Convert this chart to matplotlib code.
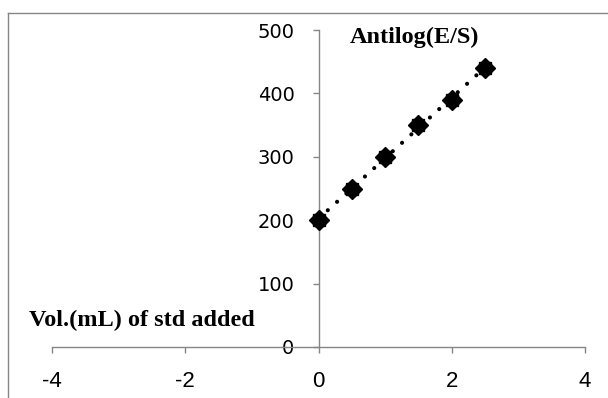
import matplotlib
matplotlib.use("Agg")
import matplotlib.pyplot as plt
import numpy as np
from matplotlib.lines import Line2D

vol_added = [0, 0.5, 1, 1.5, 2, 2.5]
antilog = [200, 250, 300, 350, 390, 440]
x_ticks = [-4, -2, 0, 2, 4]
y_ticks = [0, 100, 200, 300, 400, 500]

fig = plt.figure(figsize=(6.08, 3.98), dpi=100)
ax = fig.add_axes([52/608, 51/398, 533/608, 317/398])
ax.set_xlim(-4, 4)
ax.set_ylim(0, 500)

axis_col = "#868686"
for s in ["top", "right"]:
    ax.spines[s].set_visible(False)
ax.spines["left"].set_position(("data", 0))
ax.spines["bottom"].set_position(("data", 0))
for s in ["left", "bottom"]:
    ax.spines[s].set_color(axis_col)
    ax.spines[s].set_linewidth(1.0)

ax.set_xticks(x_ticks)
ax.set_yticks(y_ticks)
ax.set_xticklabels([str(v) for v in x_ticks])
ax.set_yticklabels([str(v) for v in y_ticks])
ax.tick_params(axis="both", direction="out", length=4.3, width=1.0, color=axis_col,
               labelcolor="black")
ax.tick_params(axis="x", pad=13, labelsize=16)
ax.tick_params(axis="y", pad=13, labelsize=14)
for lab in ax.get_xticklabels():
    lab.set_fontfamily("Liberation Sans")
for lab in ax.get_yticklabels():
    lab.set_fontfamily("DejaVu Sans")

# linear trendline (dotted)
coef = np.polyfit(vol_added, antilog, 1)
xt = np.array([min(vol_added), max(vol_added)])
ax.plot(xt, np.polyval(coef, xt), color="black", linewidth=3.0,
        linestyle=(0, (0.01, 3.0)), dash_capstyle="round", zorder=2)

# markers
ax.plot(vol_added, antilog, linestyle="none", marker="D", markersize=10,
        color="black", zorder=3)
ax.plot(vol_added, antilog, linestyle="none", marker="s", markersize=8.5,
        color="black", zorder=3)

ax.text(0.475, 479.5, "Antilog(E/S)", fontsize=17.5, fontweight="bold",
        family="Liberation Serif", ha="left", va="baseline")
ax.text(-4.35, 33, "Vol.(mL) of std added", fontsize=17.5, fontweight="bold",
        family="Liberation Serif", ha="left", va="baseline")

# outer frame (top and left edges visible)
fig.add_artist(Line2D([8/608, 1], [1 - 12.5/398, 1 - 12.5/398], transform=fig.transFigure,
                      color=axis_col, linewidth=1.0))
fig.add_artist(Line2D([8/608, 8/608], [0, 1 - 12.5/398], transform=fig.transFigure,
                      color=axis_col, linewidth=1.0))

fig.savefig("out.png", dpi=100)
